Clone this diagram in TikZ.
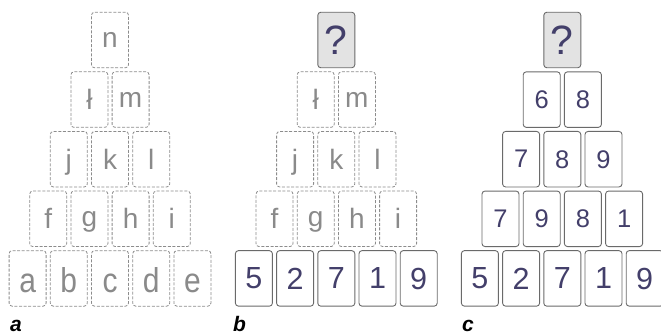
\documentclass[tikz,border=0pt]{standalone}
\usepackage{fontspec}
\setmainfont{Liberation Sans}
\definecolor{dashgray}{HTML}{8C8C8C}
\definecolor{lettergray}{HTML}{8A8A8A}
\definecolor{bordergray}{HTML}{6A6A6A}
\definecolor{numcol}{HTML}{433F6A}
\definecolor{qfill}{HTML}{E3E3E3}
\newcommand\tallglyph[1]{\scalebox{1}[1.15]{#1}}
\newcommand\cardrow[6]{%
  \foreach \t [count=\i from 0] in {#6}
    \node[#4] (#1-#3-\i) at ({#2+(\i-#3/2)*41.2},{40+#3*59.6}) {#5{\t}};}
\begin{document}
\begin{tikzpicture}[x=1pt,y=-1pt,
  card/.style={minimum width=37pt,minimum height=55.5pt,rounded corners=3pt,
    inner sep=0pt,text depth=0pt},
  dcard/.style={card,draw=dashgray,dash pattern=on 3pt off 1.6pt,line width=0.8pt,
    text=lettergray,font=\fontsize{28}{28}\selectfont},
  botletters/.style={text height=29pt,font=\fontsize{30}{30}\selectfont},
  scard/.style={card,draw=bordergray,line width=0.9pt,text=numcol,
    font=\fontsize{25.5}{25.5}\selectfont},
  botdigits/.style={font=\fontsize{30.5}{30.5}\selectfont},
  qcard/.style={scard,fill=qfill,font=\fontsize{41}{41}\selectfont},
  lab/.style={font=\fontsize{21}{21}\selectfont\bfseries\itshape,anchor=base west,inner sep=0pt}]
\useasboundingbox (0,0) rectangle (661,334);
% panel a
\cardrow{a}{110}{0}{dcard}{}{n}
\cardrow{a}{110}{1}{dcard}{}{ł,m}
\cardrow{a}{110}{2}{dcard}{}{j,k,l}
\cardrow{a}{110}{3}{dcard}{}{f,g,h,i}
\cardrow{a}{110}{4}{dcard,botletters}{\tallglyph}{a,b,c,d,e}
\node[lab] (la) at (10,331) {a};
% panel b
\cardrow{b}{336.3}{0}{qcard}{}{?}
\cardrow{b}{336.3}{1}{dcard}{}{ł,m}
\cardrow{b}{336.3}{2}{dcard}{}{j,k,l}
\cardrow{b}{336.3}{3}{dcard}{}{f,g,h,i}
\cardrow{b}{336.3}{4}{scard,botdigits}{}{5,2,7,1,9}
\node[lab] (lb) at (233,331) {b};
% panel c
\cardrow{c}{562.3}{0}{qcard}{}{?}
\cardrow{c}{562.3}{1}{scard}{}{6,8}
\cardrow{c}{562.3}{2}{scard}{}{7,8,9}
\cardrow{c}{562.3}{3}{scard}{}{7,9,8,1}
\cardrow{c}{562.3}{4}{scard,botdigits}{}{5,2,7,1,9}
\node[lab] (lc) at (462,331) {c};
\end{tikzpicture}
\end{document}
